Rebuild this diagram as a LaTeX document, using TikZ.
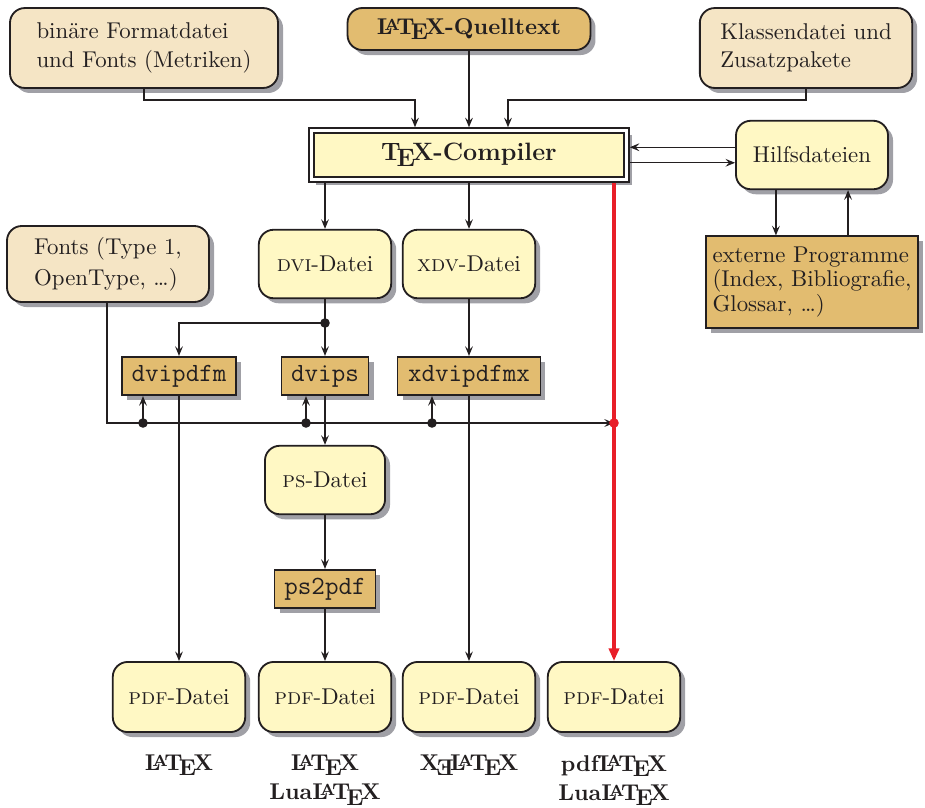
\documentclass[tikz,border=0pt]{standalone}
\usepackage{graphicx}
\usetikzlibrary{arrows.meta,shadows}
\definecolor{ink}{RGB}{35,31,32}
\definecolor{paper}{RGB}{245,229,197}
\definecolor{toolfill}{RGB}{226,188,112}
\definecolor{filefill}{RGB}{255,248,196}
\definecolor{shade}{RGB}{160,160,166}
\definecolor{fastred}{RGB}{232,30,40}
\newcommand\xelogo{X\kern-.125em\lower.5ex\hbox{\reflectbox{E}}\kern-.1667em\LaTeX}

\begin{document}
\begin{tikzpicture}[x=0.438pt,y=-0.438pt,
  box/.style={draw=ink,thick,text=ink,
    drop shadow={shadow xshift=2.2pt,shadow yshift=-2.2pt,fill=shade,opacity=1}},
  filebox/.style={box,rounded corners=6.5pt,fill=filefill,minimum width=58pt,minimum height=30pt,inner sep=2pt},
  srcbox/.style={box,rounded corners=6.5pt,fill=paper,align=left,
    font=\fontsize{10}{12.5}\selectfont},
  toolbox/.style={box,fill=toolfill,minimum height=16.8pt,inner sep=3pt,
    font=\fontsize{11.5}{13}\selectfont\ttfamily},
  conn/.style={draw=ink,semithick,-{Stealth[length=4.2pt,width=3.4pt,inset=1.6pt]}},
  label/.style={text=ink,font=\fontsize{10}{12.8}\selectfont\bfseries,align=center,anchor=north}]
  \useasboundingbox (0,0) rectangle (925,807);

  % inputs of the compiler
  \node[srcbox,minimum width=117.4pt,minimum height=35pt] (bin) at (144,48)
    {binäre Formatdatei\\und Fonts (Metriken)};
  \node[srcbox,fill=toolfill,align=center,font=\bfseries,minimum width=106.4pt,minimum height=18.4pt] (src) at (469,29)
    {\LaTeX-Quelltext};
  \node[srcbox,minimum width=93pt,minimum height=35pt] (kls) at (806,48)
    {Klassendatei und\\Zusatzpakete};
  \node[box,fill=filefill,double=white,double distance=1.6pt,line width=0.6pt,outer sep=1.4pt,
    minimum width=138pt,minimum height=21.5pt,font=\fontsize{11}{13}\selectfont\bfseries] (comp) at (469,155)
    {\TeX-Compiler};
  \node[filebox,minimum width=66.6pt] (hilf) at (812,155) {Hilfsdateien};
  \node[box,fill=toolfill,align=left,inner xsep=3pt,minimum width=89.4pt,minimum height=40pt,
    font=\fontsize{10}{10.6}\selectfont] (ext) at (812,282)
    {externe Programme\\(Index, Bibliografie,\\Glossar, \dots)};
  \node[srcbox,minimum width=88.5pt,minimum height=33.3pt,font=\fontsize{10}{13.5}\selectfont] (fnt) at (108,264)
    {Fonts (Type 1,\\OpenType, \dots)};

  % intermediate files and drivers
  \node[filebox] (dvi) at (325,264) {\textsc{dvi}-Datei};
  \node[filebox] (xdv) at (469,264) {\textsc{xdv}-Datei};
  \node[toolbox,minimum width=49.9pt] (dvipdfm) at (179,376) {dvipdfm};
  \node[toolbox,minimum width=38.1pt] (dvips) at (325,376) {dvips};
  \node[toolbox,minimum width=62.6pt] (xdvipdfmx) at (469,376) {xdvipdfmx};
  \node[filebox,minimum width=52.6pt] (ps) at (325,480) {\textsc{ps}-Datei};
  \node[toolbox,minimum width=44.2pt] (pstopdf) at (325,589) {ps2pdf};

  % results
  \node[filebox,minimum height=30.7pt] (pdfa) at (179,697) {\textsc{pdf}-Datei};
  \node[filebox,minimum height=30.7pt] (pdfb) at (325,697) {\textsc{pdf}-Datei};
  \node[filebox,minimum height=30.7pt] (pdfc) at (469,697) {\textsc{pdf}-Datei};
  \node[filebox,minimum height=30.7pt] (pdfd) at (614,697) {\textsc{pdf}-Datei};
  \node[label] (la) at (179,747) {\LaTeX};
  \node[label] (lb) at (325,747) {\LaTeX\\Lua\LaTeX};
  \node[label] (lc) at (469,747) {\xelogo};
  \node[label] (ld) at (614,747) {pdf\LaTeX\\Lua\LaTeX};

  % connectors
  \coordinate (jl) at (415,100);
  \coordinate (jr) at (508,100);
  \draw[conn] (bin.south) |- (jl) -- (jl |- comp.north);
  \draw[conn] (src) -- (comp);
  \draw[conn] (kls.south) |- (jr) -- (jr |- comp.north);
  \draw[conn] ([yshift=3.4pt]hilf.west) -- ([yshift=3.4pt]comp.east);
  \draw[conn] ([yshift=-3.4pt]comp.east) -- ([yshift=-3.4pt]hilf.west);
  \draw[conn] ([xshift=-15.8pt]hilf.south) -- ([xshift=-15.8pt]ext.north);
  \draw[conn] ([xshift=15.8pt]ext.north) -- ([xshift=15.8pt]hilf.south);
  \draw[conn] (comp.south -| dvi) -- (dvi);
  \draw[conn] (comp.south -| xdv) -- (xdv);

  \coordinate (jdvi) at (325,323);
  \draw[conn] (dvi) -- (dvips);
  \draw[conn] (jdvi) -| (dvipdfm);
  \fill[ink] (jdvi) circle (2.1pt);
  \draw[conn] (xdv) -- (xdvipdfmx);
  \draw[conn] (dvipdfm) -- (pdfa);
  \draw[conn] (dvips) -- (ps);
  \draw[conn] (ps) -- (pstopdf);
  \draw[conn] (pstopdf) -- (pdfb);
  \draw[conn] (xdvipdfmx) -- (pdfc);

  % fonts for the drivers
  \coordinate (jf) at (614,423);
  \coordinate (ua) at (143,423);
  \coordinate (ub) at (306,423);
  \coordinate (uc) at (432,423);
  \draw[conn] (fnt.south -| 107,0) |- (jf);
  \foreach \u/\t in {ua/dvipdfm,ub/dvips,uc/xdvipdfmx} {
    \draw[conn] (\u) -- (\u |- \t.south);
    \fill[ink] (\u) circle (2.1pt);
  }

  % direct route
  \draw[fastred,line width=1.8pt,-{Triangle[length=5.5pt,width=4.4pt]}] (comp.south -| pdfd) -- (pdfd);
  \fill[fastred] (jf) circle (2.1pt);
\end{tikzpicture}
\end{document}
